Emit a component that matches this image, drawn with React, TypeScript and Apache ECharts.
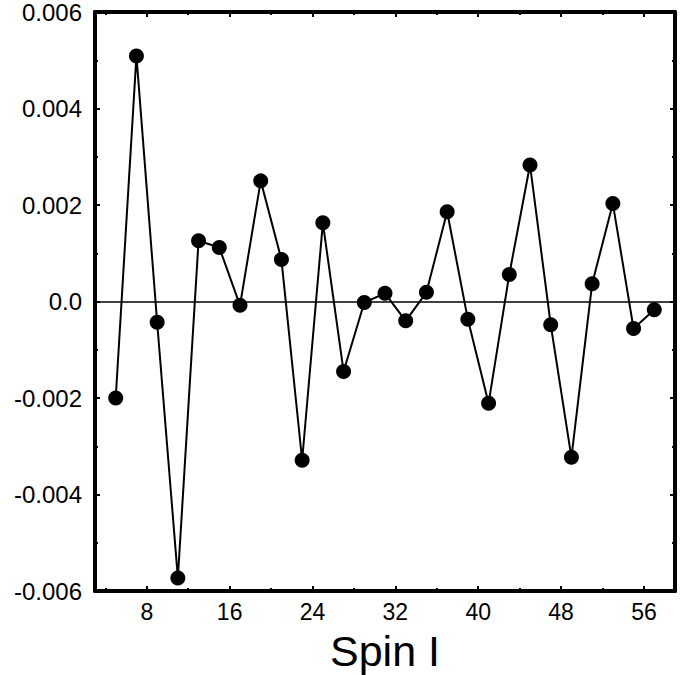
import React, { useEffect, useRef } from "react";
import * as echarts from "echarts";

const spins = [5, 7, 9, 11, 13, 15, 17, 19, 21, 23, 25, 27, 29, 31, 33, 35, 37, 39, 41, 43, 45, 47, 49, 51, 53, 55, 57];
const values = [
  -0.0020, 0.00509, -0.00043, -0.00573, 0.00126, 0.00112, -0.00008, 0.00250, 0.00087,
  -0.00329, 0.00163, -0.00145, -0.00002, 0.00017, -0.00040, 0.00019, 0.00186, -0.00037,
  -0.00211, 0.00056, 0.00283, -0.00048, -0.00323, 0.00037, 0.00203, -0.00056, -0.00017,
];
const xMajorTicks = [8, 16, 24, 32, 40, 48, 56];
const xMinorTicks = [4, 12, 20, 28, 36, 44, 52];
const xLabel = "Spin I";

const FONT = "'Liberation Sans', Arial, Helvetica, sans-serif";

export default function App() {
  const ref = useRef<HTMLDivElement>(null);
  useEffect(() => {
    if (!ref.current) return;
    const chart = echarts.init(ref.current, undefined, { renderer: "svg" });
    const frameLine = () => ({ show: true, onZero: false, lineStyle: { color: "#000", width: 4 } });
    const baseX = (position: string, ticks: number[], major: boolean, labels: boolean) => ({
      type: "value",
      position,
      min: 3,
      max: 59,
      axisLine: major ? frameLine() : { show: false, onZero: false },
      axisTick: {
        show: true,
        inside: true,
        length: major ? 5 : 3,
        customValues: ticks,
        lineStyle: { color: "#000", width: 2 },
      },
      axisLabel: labels
        ? { show: true, customValues: ticks, fontSize: 23, color: "#000", fontFamily: FONT, margin: 9 }
        : { show: false },
      splitLine: { show: false },
    });
    const baseY = (position: string, labels: boolean) => ({
      type: "value",
      position,
      min: -0.006,
      max: 0.006,
      interval: 0.002,
      axisLine: frameLine(),
      axisTick: { show: true, inside: true, length: 5, lineStyle: { color: "#000", width: 2 } },
      minorTick: { show: true, splitNumber: 2, length: 3, lineStyle: { color: "#000", width: 2 } },
      axisLabel: labels
        ? {
            show: true,
            fontSize: 24,
            color: "#000",
            fontFamily: FONT,
            margin: 13,
            formatter: (v: number) => (Math.abs(v) < 1e-12 ? "0.0" : v.toFixed(3)),
          }
        : { show: false },
      splitLine: { show: false },
      minorSplitLine: { show: false },
    });
    chart.setOption({
      animation: false,
      backgroundColor: "#fff",
      grid: { left: 95, right: 11, top: 10, bottom: 84, containLabel: false },
      xAxis: [
        baseX("bottom", xMajorTicks, true, true),
        baseX("bottom", xMinorTicks, false, false),
        baseX("top", xMajorTicks, true, false),
        baseX("top", xMinorTicks, false, false),
      ],
      yAxis: [baseY("left", true), baseY("right", false)],
      graphic: [
        {
          type: "text",
          x: 385,
          y: 651,
          style: {
            text: xLabel,
            font: `43px ${FONT}`,
            fill: "#000",
            textAlign: "center",
            textVerticalAlign: "middle",
          },
        },
      ],
      series: [
        {
          type: "line",
          xAxisIndex: 0,
          yAxisIndex: 0,
          data: spins.map((s, i) => [s, values[i]]),
          symbol: "circle",
          symbolSize: 15,
          lineStyle: { color: "#000", width: 2 },
          itemStyle: { color: "#000" },
          z: 3,
          markLine: {
            silent: true,
            symbol: "none",
            label: { show: false },
            lineStyle: { color: "#000", width: 1.5, type: "solid" },
            data: [{ yAxis: 0 }],
          },
        },
      ],
    });
    return () => chart.dispose();
  }, []);
  return <div ref={ref} style={{ width: 686, height: 675, position: "absolute", left: 0, top: 0 }} />;
}
